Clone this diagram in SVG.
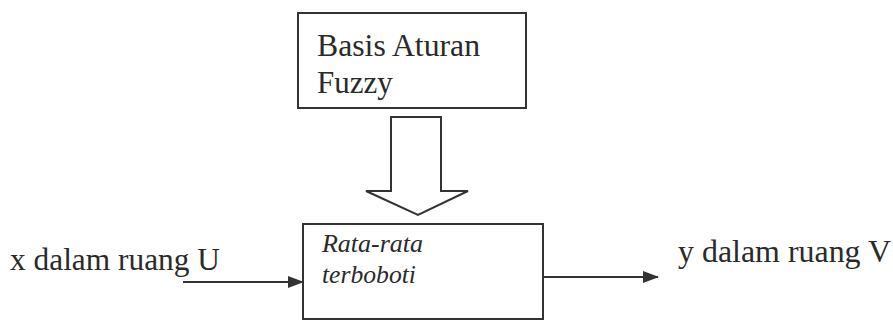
<svg xmlns="http://www.w3.org/2000/svg" width="893" height="321" viewBox="0 0 893 321">
<style>
.box{fill:#fff;stroke:#333;stroke-width:2}
.t{font-family:"Liberation Serif","Times New Roman",serif;fill:#2a2a2a}
.big{font-size:31px}
.it{font-size:25px;font-style:italic}
.ln{stroke:#333;stroke-width:2;fill:none}
</style>
<defs>
<marker id="ah" markerWidth="16" markerHeight="12" refX="15" refY="6" orient="auto" markerUnits="userSpaceOnUse">
<path d="M0,0 L16,6 L0,12 Z" fill="#333"/>
</marker>
</defs>
<rect width="893" height="321" fill="#fff"/>
<g id="rule-base">
<rect class="box" x="298" y="13" width="228" height="95"/>
<text class="t big" x="317" y="56" textLength="163" lengthAdjust="spacingAndGlyphs">Basis Aturan</text>
<text class="t big" x="317" y="93">Fuzzy</text>
</g>
<g id="weighted-average">
<rect class="box" x="303" y="224" width="240" height="95"/>
<text class="t it" x="322" y="252" textLength="101" lengthAdjust="spacingAndGlyphs">Rata-rata</text>
<text class="t it" x="322" y="283" textLength="94" lengthAdjust="spacingAndGlyphs">terboboti</text>
</g>
<g id="input-label">
<text class="t big" x="10" y="270" textLength="210" lengthAdjust="spacingAndGlyphs">x dalam ruang U</text>
</g>
<g id="output-label">
<text class="t big" x="678" y="262" textLength="213" lengthAdjust="spacingAndGlyphs">y dalam ruang V</text>
</g>
<g id="connectors">
<path class="ln" d="M391,117 L441,117 L441,191 L468,191 L418,215 L366,191 L391,191 Z"/>
<line class="ln" x1="183" y1="282" x2="303" y2="282" marker-end="url(#ah)"/>
<line class="ln" x1="543" y1="277" x2="658" y2="277" marker-end="url(#ah)"/>
</g>
</svg>
